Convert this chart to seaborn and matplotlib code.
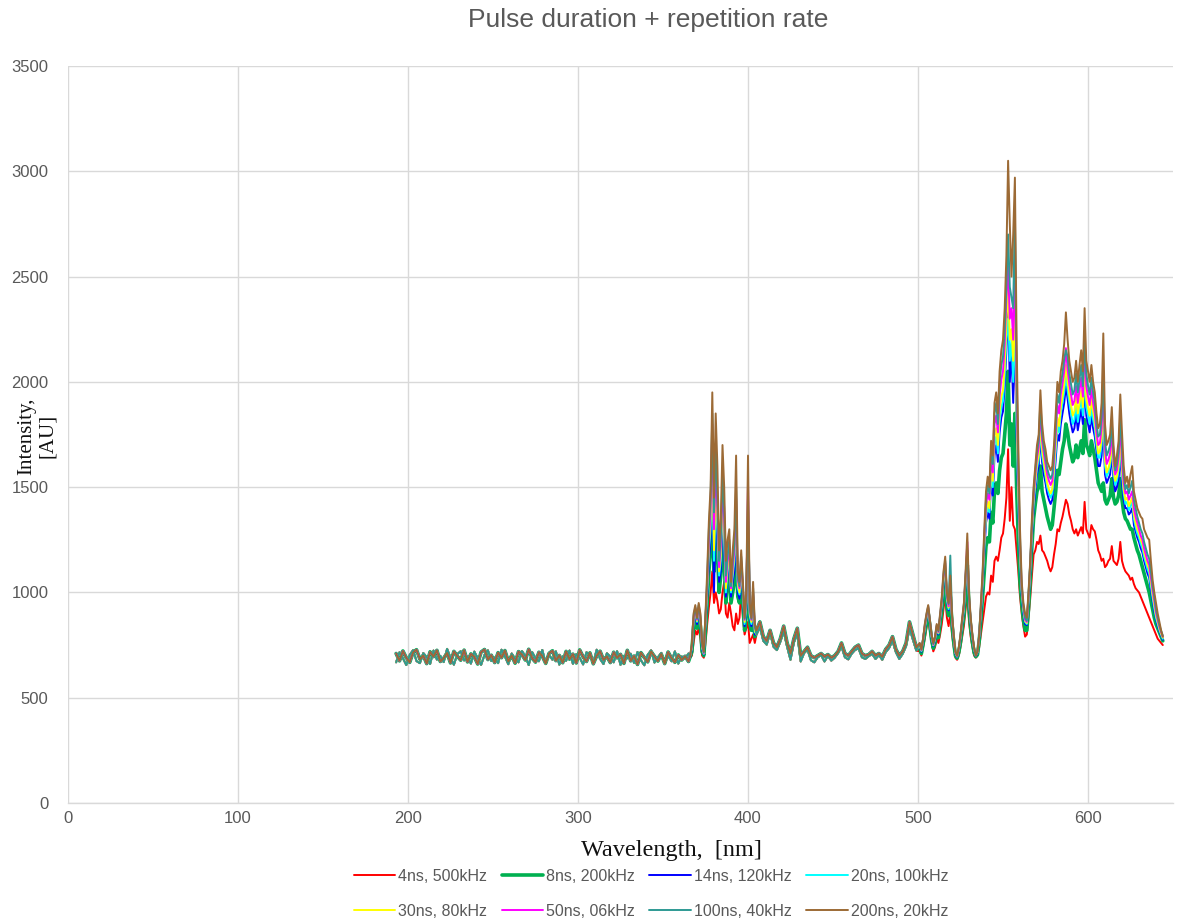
import numpy as np
import pandas as pd
import matplotlib
matplotlib.use("Agg")
import matplotlib.pyplot as plt
import seaborn as sns
from matplotlib.lines import Line2D

# ---------------- data ----------------
series_names = ["4ns, 500kHz", "8ns, 200kHz", "14ns, 120kHz", "20ns, 100kHz",
                "30ns, 80kHz", "50ns, 06kHz", "100ns, 40kHz", "200ns, 20kHz"]
series_colors = ["#FF0000", "#00B050", "#0000FF", "#00FFFF",
                 "#FFFF00", "#FF00FF", "#2E9A94", "#9C6A35"]

x_ticks = [0, 100, 200, 300, 400, 500, 600]
y_ticks = [0, 500, 1000, 1500, 2000, 2500, 3000, 3500]

# flat background 193-365 nm (2 nm step) -- two traces, overlapping band
flat_a = [710, 675, 722, 690, 668, 715, 728, 683, 700, 662,
          718, 695, 725, 672, 688, 712, 665, 720, 698, 678,
          726, 670, 708, 694, 660, 717, 729, 681, 702, 667,
          714, 690, 724, 673, 700, 664, 719, 705, 679, 730,
          688, 669, 716, 697, 663, 711, 723, 676, 701, 666,
          720, 683, 707, 665, 727, 694, 672, 713, 661, 699,
          721, 680, 696, 667, 716, 689, 706, 663, 725, 675,
          698, 658, 714, 691, 670, 719, 696, 674, 707, 662,
          717, 688, 668, 703, 679, 697, 672]
flat_b = [668, 716, 688, 655, 703, 726, 674, 664, 712, 693,
          660, 724, 681, 699, 669, 732, 690, 657, 707, 721,
          677, 697, 662, 719, 688, 656, 703, 725, 674, 691,
          664, 728, 696, 659, 710, 685, 668, 722, 698, 655,
          717, 688, 673, 727, 663, 703, 680, 720, 657, 697,
          675, 724, 661, 707, 690, 658, 716, 701, 667, 728,
          684, 660, 711, 695, 668, 721, 656, 699, 687, 709,
          665, 717, 678, 654, 704, 725, 667, 692, 713, 663,
          699, 673, 720, 662, 696, 686, 710]

# 366-404 nm (1 nm step), per series
uv_red = [690, 700, 760, 820, 800, 830, 780, 700, 690, 760,
          850, 930, 1000, 1100, 950, 1000, 960, 900, 920, 1000,
          1050, 900, 880, 950, 900, 840, 820, 900, 850, 880,
          1000, 880, 800, 830, 860, 760, 780, 800, 760]
uv_green = [695, 720, 840, 880, 830, 890, 840, 720, 700, 820,
            950, 1100, 1200, 1450, 1100, 1300, 1200, 1000, 1080, 1250,
            1150, 950, 1050, 1100, 950, 1000, 1050, 1200, 980, 950,
            1050, 950, 820, 900, 1200, 850, 820, 900, 790]
uv_blue = [695, 730, 860, 900, 850, 910, 860, 730, 705, 850,
           980, 1150, 1250, 1550, 1000, 1400, 1250, 1050, 1100, 1350,
           1200, 980, 1080, 1150, 980, 1050, 1100, 1300, 1000, 970,
           1080, 980, 840, 920, 1300, 880, 840, 950, 800]
uv_cyan = [698, 735, 870, 910, 860, 920, 870, 735, 708, 860,
           1000, 1200, 1300, 1650, 1150, 1450, 1300, 1080, 1150, 1400,
           1250, 1000, 1100, 1180, 1000, 1080, 1150, 1350, 1020, 990,
           1100, 1000, 850, 930, 1350, 890, 850, 960, 810]
uv_yellow = [700, 740, 875, 915, 865, 925, 875, 740, 710, 870,
             1020, 1220, 1350, 1700, 1200, 1500, 1350, 1100, 1180, 1450,
             1300, 1020, 1120, 1200, 1010, 1100, 1180, 1400, 1040, 1000,
             1120, 1010, 860, 950, 1400, 900, 860, 980, 820]
uv_magenta = [702, 745, 880, 925, 870, 930, 880, 745, 712, 880,
              1040, 1250, 1400, 1800, 1300, 1600, 1400, 1120, 1220, 1500,
              1350, 1050, 1150, 1220, 1020, 1120, 1200, 1450, 1060, 1020,
              1150, 1020, 870, 960, 1520, 920, 870, 1000, 830]
uv_teal = [700, 750, 890, 930, 875, 940, 890, 750, 715, 890,
           1060, 1300, 1450, 1850, 1380, 1700, 1450, 1150, 1260, 1550,
           1400, 1080, 1180, 1250, 1030, 1150, 1230, 1500, 1070, 1030,
           1170, 1030, 875, 980, 1450, 930, 875, 1020, 840]
uv_brown = [700, 760, 900, 940, 880, 950, 900, 760, 720, 900,
            1100, 1340, 1500, 1950, 1450, 1850, 1600, 1200, 1350, 1700,
            1500, 1150, 1250, 1300, 1050, 1200, 1300, 1650, 1100, 1050,
            1200, 1050, 880, 1000, 1650, 950, 880, 1050, 850]

# 405-499 nm (2 nm step) -- two traces
mid_a = [820, 860, 790, 770, 820, 760, 740, 780, 840, 760,
         710, 780, 830, 700, 720, 740, 700, 690, 700, 710,
         695, 705, 690, 700, 720, 760, 710, 700, 720, 740,
         750, 710, 700, 705, 720, 700, 710, 695, 730, 750,
         790, 730, 700, 720, 760, 860, 800, 740]
mid_b = [800, 835, 770, 752, 808, 742, 726, 765, 815, 742,
         680, 762, 805, 672, 712, 728, 678, 668, 692, 702,
         672, 699, 676, 690, 712, 742, 692, 682, 709, 727,
         734, 692, 684, 697, 708, 684, 702, 680, 716, 736,
         770, 716, 684, 708, 745, 830, 776, 724]

# 501-644 nm (1 nm step), per series
vis_red = [720, 700, 740, 780, 830, 880, 820, 760, 720, 740,
           780, 760, 800, 850, 920, 980, 880, 840, 900, 800,
           740, 690, 680, 700, 740, 790, 840, 920, 1000, 860,
           790, 740, 700, 690, 700, 740, 800, 860, 920, 980,
           1000, 990, 1080, 1050, 1150, 1170, 1150, 1200, 1260, 1280,
           1350, 1450, 1680, 1340, 1500, 1320, 1300, 1200, 1100, 980,
           900, 840, 790, 800, 880, 970, 1080, 1180, 1200, 1240,
           1230, 1270, 1200, 1190, 1170, 1150, 1120, 1100, 1120, 1180,
           1230, 1300, 1290, 1330, 1360, 1400, 1440, 1420, 1370, 1340,
           1300, 1280, 1300, 1270, 1290, 1310, 1280, 1430, 1300, 1280,
           1260, 1320, 1300, 1290, 1250, 1200, 1180, 1150, 1160, 1120,
           1130, 1150, 1160, 1220, 1150, 1140, 1130, 1160, 1240, 1150,
           1120, 1100, 1090, 1080, 1060, 1070, 1040, 1020, 1010, 1000,
           980, 960, 940, 920, 900, 880, 860, 840, 820, 800,
           780, 770, 760, 750]
vis_green = [735, 710, 755, 810, 860, 900, 840, 775, 735, 760,
             810, 785, 850, 910, 1000, 1060, 930, 890, 980, 850,
             765, 700, 688, 715, 765, 830, 890, 1000, 1130, 920,
             830, 765, 715, 695, 705, 770, 870, 980, 1100, 1220,
             1260, 1240, 1380, 1330, 1480, 1520, 1470, 1580, 1640, 1660,
             1750, 1850, 2050, 1700, 1800, 1600, 1850, 1500, 1250, 1050,
             950, 870, 820, 820, 920, 1060, 1220, 1350, 1420, 1480,
             1500, 1600, 1480, 1440, 1400, 1360, 1330, 1300, 1320, 1400,
             1480, 1580, 1560, 1620, 1680, 1720, 1800, 1760, 1700, 1660,
             1620, 1640, 1700, 1640, 1680, 1720, 1660, 1820, 1700, 1680,
             1650, 1720, 1680, 1640, 1580, 1520, 1500, 1480, 1520, 1440,
             1420, 1440, 1460, 1540, 1450, 1420, 1430, 1460, 1540, 1440,
             1380, 1350, 1340, 1320, 1300, 1300, 1260, 1230, 1200, 1180,
             1150, 1120, 1090, 1060, 1030, 1000, 960, 920, 880, 850,
             830, 810, 790, 770]
vis_blue = [745, 718, 765, 825, 875, 915, 850, 785, 745, 770,
            825, 800, 870, 935, 1040, 1100, 960, 915, 1020, 870,
            780, 708, 692, 725, 780, 850, 915, 1040, 1180, 950,
            850, 780, 725, 698, 712, 785, 900, 1030, 1190, 1330,
            1380, 1350, 1520, 1460, 1650, 1700, 1620, 1760, 1830, 1860,
            1980, 2150, 2350, 2000, 2150, 1900, 2250, 1750, 1420, 1150,
            990, 900, 850, 845, 950, 1090, 1260, 1400, 1480, 1560,
            1600, 1750, 1620, 1560, 1520, 1470, 1440, 1420, 1440, 1530,
            1630, 1750, 1720, 1800, 1850, 1900, 1980, 1920, 1850, 1800,
            1760, 1780, 1850, 1770, 1820, 1870, 1800, 1980, 1840, 1800,
            1760, 1840, 1780, 1740, 1670, 1600, 1600, 1650, 1800, 1560,
            1520, 1540, 1560, 1660, 1540, 1480, 1500, 1540, 1660, 1520,
            1440, 1400, 1400, 1370, 1380, 1400, 1320, 1290, 1260, 1240,
            1210, 1190, 1150, 1120, 1090, 1070, 1010, 960, 910, 870,
            840, 815, 795, 775]
vis_cyan = [748, 722, 770, 830, 880, 920, 855, 790, 748, 775,
            830, 805, 875, 945, 1050, 1110, 965, 920, 1030, 875,
            785, 712, 695, 728, 785, 855, 920, 1050, 1200, 960,
            855, 785, 728, 700, 714, 790, 910, 1045, 1210, 1360,
            1410, 1380, 1560, 1500, 1700, 1740, 1660, 1810, 1880, 1910,
            2030, 2200, 2300, 2100, 2200, 2000, 2300, 1800, 1450, 1170,
            1000, 910, 860, 850, 960, 1100, 1280, 1420, 1510, 1590,
            1630, 1790, 1650, 1600, 1550, 1500, 1470, 1450, 1470, 1560,
            1670, 1800, 1760, 1850, 1900, 1950, 2030, 1960, 1900, 1850,
            1800, 1820, 1890, 1810, 1870, 1920, 1840, 2050, 1880, 1840,
            1800, 1880, 1820, 1780, 1700, 1640, 1640, 1700, 1880, 1600,
            1550, 1570, 1600, 1700, 1570, 1510, 1530, 1580, 1720, 1560,
            1470, 1420, 1430, 1390, 1410, 1430, 1350, 1310, 1280, 1260,
            1230, 1210, 1170, 1140, 1110, 1090, 1030, 975, 925, 880,
            850, 822, 800, 780]
vis_yellow = [750, 724, 772, 834, 884, 925, 858, 792, 750, 778,
              834, 808, 880, 950, 1060, 1120, 975, 928, 1040, 880,
              788, 714, 696, 730, 788, 860, 926, 1060, 1210, 966,
              860, 788, 730, 702, 716, 792, 915, 1055, 1225, 1380,
              1430, 1400, 1590, 1530, 1740, 1780, 1700, 1860, 1930, 1960,
              2080, 2280, 2450, 2200, 2250, 2100, 2400, 1850, 1480, 1190,
              1010, 920, 865, 855, 965, 1110, 1290, 1440, 1530, 1610,
              1650, 1820, 1680, 1620, 1570, 1520, 1490, 1470, 1490, 1590,
              1700, 1830, 1790, 1880, 1930, 1990, 2080, 2000, 1940, 1890,
              1840, 1860, 1930, 1850, 1900, 1960, 1880, 2100, 1920, 1880,
              1840, 1920, 1860, 1810, 1730, 1660, 1670, 1730, 1930, 1630,
              1570, 1590, 1620, 1730, 1590, 1530, 1550, 1600, 1750, 1580,
              1490, 1440, 1450, 1410, 1430, 1450, 1370, 1330, 1300, 1280,
              1250, 1230, 1190, 1160, 1130, 1110, 1050, 990, 940, 890,
              858, 828, 805, 785]
vis_magenta = [755, 726, 775, 840, 890, 930, 862, 795, 752, 782,
               840, 812, 885, 960, 1075, 1140, 985, 935, 1050, 885,
               792, 716, 698, 733, 792, 866, 935, 1075, 1240, 975,
               866, 792, 733, 700, 718, 795, 925, 1070, 1250, 1410,
               1470, 1440, 1640, 1570, 1800, 1840, 1760, 1930, 2010, 2050,
               2180, 2400, 2550, 2300, 2350, 2200, 2600, 1950, 1550, 1230,
               1020, 930, 870, 860, 975, 1125, 1310, 1460, 1560, 1640,
               1690, 1870, 1720, 1660, 1610, 1560, 1530, 1510, 1530, 1630,
               1750, 1890, 1850, 1940, 1990, 2050, 2160, 2060, 1990, 1940,
               1890, 1910, 1980, 1900, 1960, 2020, 1930, 2180, 1980, 1930,
               1890, 1970, 1900, 1850, 1760, 1700, 1710, 1780, 2000, 1680,
               1610, 1630, 1660, 1770, 1620, 1560, 1580, 1640, 1800, 1620,
               1520, 1470, 1480, 1440, 1460, 1480, 1400, 1360, 1330, 1300,
               1270, 1250, 1210, 1180, 1150, 1130, 1070, 1010, 960, 905,
               870, 838, 812, 790]
vis_teal = [758, 728, 778, 845, 895, 935, 866, 798, 755, 786,
            845, 816, 890, 968, 1085, 1150, 990, 945, 1175, 890,
            795, 718, 699, 736, 795, 872, 940, 1085, 1200, 985,
            872, 795, 736, 700, 719, 798, 935, 1080, 1270, 1440,
            1510, 1470, 1680, 1610, 1850, 1900, 1800, 1990, 2080, 2120,
            2250, 2450, 2700, 2450, 2400, 2350, 2800, 2050, 1600, 1260,
            1030, 935, 880, 865, 985, 1135, 1325, 1480, 1580, 1670,
            1720, 1910, 1750, 1690, 1640, 1590, 1560, 1540, 1560, 1660,
            1790, 1940, 1900, 1990, 2040, 2110, 2150, 2120, 2040, 1990,
            1940, 1960, 2040, 1950, 2010, 2080, 1980, 2200, 2040, 1980,
            1940, 2020, 1950, 1900, 1800, 1740, 1750, 1830, 2050, 1720,
            1650, 1670, 1700, 1810, 1660, 1580, 1610, 1670, 1840, 1680,
            1560, 1490, 1510, 1470, 1500, 1530, 1440, 1400, 1360, 1330,
            1300, 1280, 1240, 1210, 1180, 1160, 1100, 1030, 980, 920,
            880, 845, 818, 795]
vis_brown = [760, 730, 780, 850, 900, 940, 870, 800, 760, 790,
             850, 820, 900, 980, 1100, 1170, 1000, 950, 1080, 900,
             800, 720, 700, 740, 800, 880, 950, 1100, 1280, 1000,
             880, 800, 740, 700, 720, 800, 950, 1100, 1300, 1480,
             1550, 1500, 1720, 1650, 1900, 1950, 1850, 2050, 2150, 2200,
             2350, 2600, 3050, 2750, 2500, 2700, 2970, 2200, 1700, 1300,
             1050, 950, 900, 880, 1000, 1150, 1350, 1500, 1600, 1700,
             1750, 1960, 1800, 1720, 1680, 1620, 1600, 1580, 1600, 1700,
             1850, 2000, 1950, 2050, 2100, 2180, 2330, 2200, 2100, 2050,
             2000, 2020, 2100, 2000, 2080, 2150, 2050, 2350, 2100, 2050,
             2000, 2080, 2000, 1950, 1850, 1780, 1800, 1900, 2230, 1800,
             1700, 1720, 1750, 1880, 1700, 1600, 1650, 1720, 1940, 1760,
             1600, 1520, 1550, 1500, 1560, 1600, 1480, 1440, 1400, 1380,
             1360, 1350, 1300, 1280, 1260, 1250, 1150, 1060, 1000, 950,
             900, 860, 820, 790]

uv_parts = [uv_red, uv_green, uv_blue, uv_cyan, uv_yellow, uv_magenta, uv_teal, uv_brown]
vis_parts = [vis_red, vis_green, vis_blue, vis_cyan, vis_yellow, vis_magenta, vis_teal, vis_brown]
flat_parts = [flat_b, flat_a, flat_b, flat_a, flat_b, flat_a, flat_b, flat_a]
mid_parts = [mid_b, mid_a, mid_b, mid_a, mid_b, mid_a, mid_b, mid_a]

# ---------------- assemble ----------------
rows = []
for i, name in enumerate(series_names):
    segs = [(193, 2, flat_parts[i]), (366, 1, uv_parts[i]),
            (405, 2, mid_parts[i]), (501, 1, vis_parts[i])]
    for start, step, vals in segs:
        wl = np.arange(start, start + step * len(vals), step)[:len(vals)]
        for w, v in zip(wl, vals):
            rows.append((name, float(w), float(v)))
df = pd.DataFrame(rows, columns=["series", "wavelength", "intensity"])

# ---------------- plot ----------------
sns.set_theme(style="white")
plt.rcParams["font.family"] = ["Liberation Sans", "DejaVu Sans"]

fig = plt.figure(figsize=(11.79, 9.21), dpi=100)
ax = fig.add_axes([68 / 1179, 1 - 803 / 921, (1173 - 68) / 1179, (803 - 66) / 921])

for i, name in enumerate(series_names):
    sub = df[df["series"] == name]
    sns.lineplot(data=sub, x="wavelength", y="intensity", ax=ax,
                 color=series_colors[i], linewidth=2.6 if i == 1 else 1.4,
                 sort=False, estimator=None, legend=False, zorder=3 + i)

ax.set_xlim(0, 650)
ax.set_ylim(0, 3500)
ax.set_xticks(x_ticks)
ax.set_yticks(y_ticks)
ax.grid(True, color="#D9D9D9", linewidth=1.0, zorder=0)
ax.set_axisbelow(True)
for s in ax.spines.values():
    s.set_visible(False)
ax.spines["bottom"].set_visible(True)
ax.spines["bottom"].set_color("#D9D9D9")
ax.spines["bottom"].set_linewidth(1.0)
ax.tick_params(axis="both", length=0, labelsize=12, labelcolor="#595959")
ax.tick_params(axis="y", pad=14)
ax.tick_params(axis="x", pad=6)
ax.set_xlabel("")
ax.set_ylabel("")

fig.text(648 / 1179, 1 - 20 / 921, "Pulse duration + repetition rate",
         ha="center", va="center", fontsize=19, color="#595959")
fig.text(671 / 1179, 1 - 850 / 921, "Wavelength,  [nm]", ha="center", va="center",
         fontsize=17.5, family=["Liberation Serif", "DejaVu Serif"], color="#111111")
fig.text(37 / 1179, 1 - 436 / 921, "Intensity,\n[AU]", ha="center", va="center",
         rotation=90, fontsize=15, family=["Liberation Serif", "DejaVu Serif"],
         color="#111111", multialignment="center", linespacing=1.15)

handles = [Line2D([0], [0], color=series_colors[i], linewidth=2.6 if i == 1 else 1.4)
           for i in range(len(series_names))]
order = [0, 4, 1, 5, 2, 6, 3, 7]
leg = fig.legend([handles[k] for k in order], [series_names[k] for k in order],
                 loc="center", bbox_to_anchor=(651 / 1179, 1 - 894 / 921), ncol=4,
                 frameon=False, fontsize=11.5, handlelength=2.6, handletextpad=0.2,
                 columnspacing=0.9, labelspacing=1.25, labelcolor="#595959")

fig.savefig("out.png", dpi=100)
